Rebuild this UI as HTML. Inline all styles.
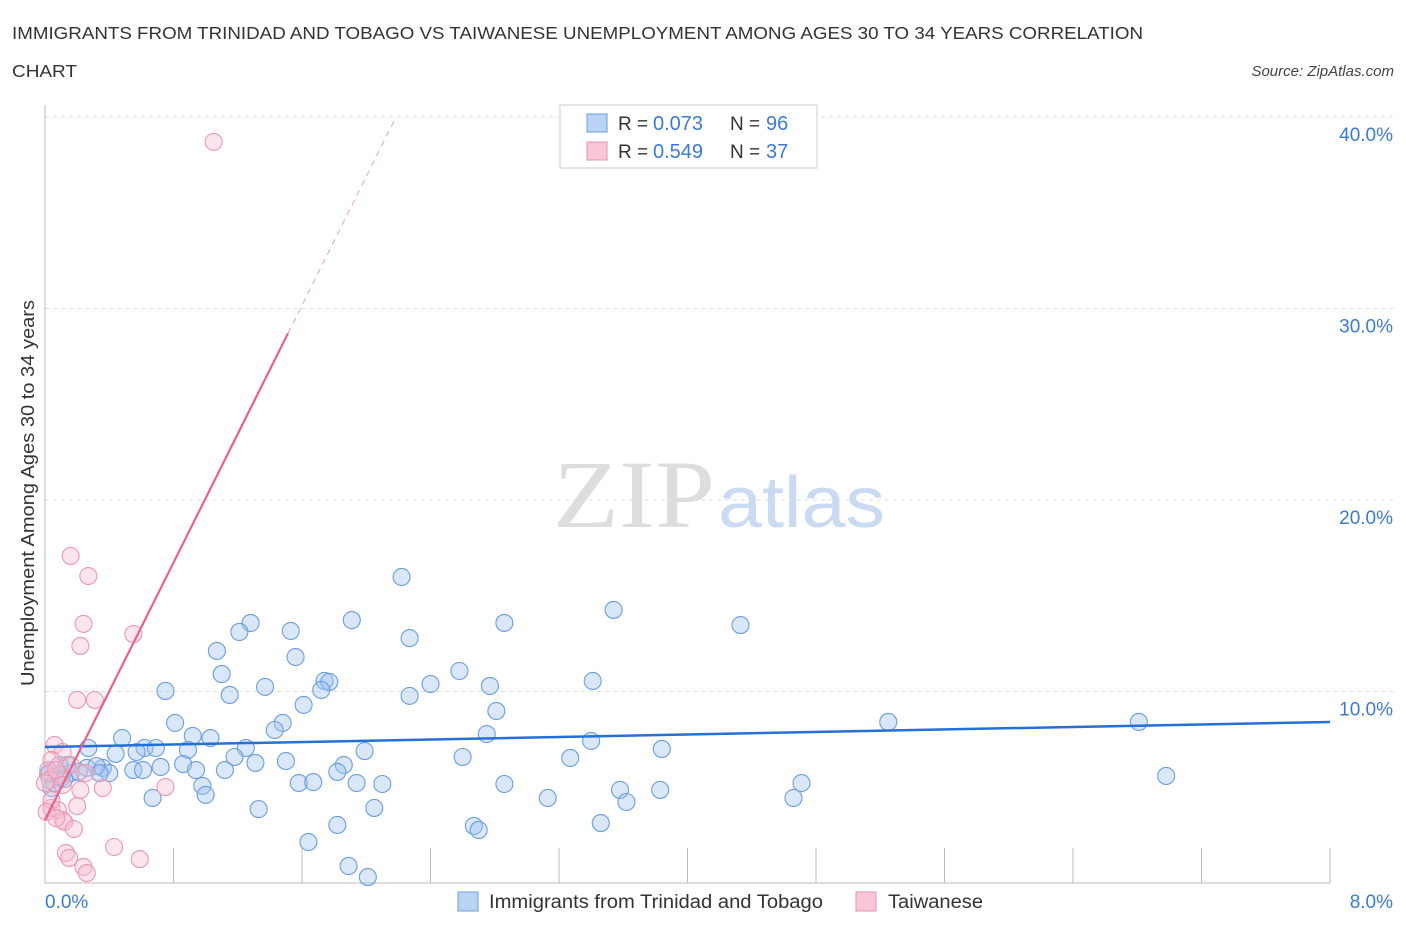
<!DOCTYPE html>
<html><head><meta charset="utf-8"><style>
body{margin:0;background:#fff;font-family:"Liberation Sans",sans-serif;}
</style></head><body>
<svg id="chart" width="1406" height="930" xmlns="http://www.w3.org/2000/svg" font-family="Liberation Sans, sans-serif">
<text x="12" y="39" font-size="17.5" fill="#333" textLength="1131" lengthAdjust="spacingAndGlyphs">IMMIGRANTS FROM TRINIDAD AND TOBAGO VS TAIWANESE UNEMPLOYMENT AMONG AGES 30 TO 34 YEARS CORRELATION</text>
<text x="12" y="77" font-size="17.5" fill="#333" textLength="65" lengthAdjust="spacingAndGlyphs">CHART</text>
<text x="1394" y="76" font-size="15" fill="#444" font-style="italic" text-anchor="end">Source: ZipAtlas.com</text>
<text x="553" y="527" font-size="96" fill="#ddd" font-family="Liberation Serif, serif" textLength="162" lengthAdjust="spacingAndGlyphs">ZIP</text>
<text x="718" y="527" font-size="72" fill="#c9daf2" textLength="167" lengthAdjust="spacingAndGlyphs">atlas</text>
<text transform="translate(34,493) rotate(-90)" font-size="18" fill="#333" text-anchor="middle" textLength="386" lengthAdjust="spacingAndGlyphs">Unemployment Among Ages 30 to 34 years</text>
<g id="grid"></g><g id="axes"></g><g id="pts"></g><g id="lines"></g>
<g>
<rect x="560" y="105" width="257" height="63" fill="#fff" stroke="#ccc"/>
<rect x="587" y="114" width="20" height="18" fill="#b9d3f5" stroke="#6a9de0"/>
<text x="618" y="130" font-size="19" fill="#333">R =</text>
<text x="653" y="130" font-size="20" fill="#3a7bd5">0.073</text>
<text x="730" y="130" font-size="19" fill="#333">N =</text>
<text x="766" y="130" font-size="20" fill="#3a7bd5">96</text>
<rect x="587" y="142" width="20" height="18" fill="#f8c6d4" stroke="#e890aa"/>
<text x="618" y="158" font-size="19" fill="#333">R =</text>
<text x="653" y="158" font-size="20" fill="#3a7bd5">0.549</text>
<text x="730" y="158" font-size="19" fill="#333">N =</text>
<text x="766" y="158" font-size="20" fill="#3a7bd5">37</text>
</g>
<g>
<rect x="458" y="892" width="20" height="19" fill="#b9d3f5" stroke="#6a9de0"/>
<text x="489" y="908" font-size="19" fill="#333" textLength="334" lengthAdjust="spacingAndGlyphs">Immigrants from Trinidad and Tobago</text>
<rect x="856" y="892" width="20" height="19" fill="#f8c6d4" stroke="#e890aa"/>
<text x="888" y="908" font-size="19" fill="#333" textLength="95" lengthAdjust="spacingAndGlyphs">Taiwanese</text>
</g>
</svg>
<script>
const blueX=[2.22,3.54,4.33,2.86,1.91,1.28,1.21,1.53,2.27,1.07,1.56,1.10,2.58,1.74,1.77,1.72,2.40,2.77,3.41,0.75,1.37,1.15,2.27,1.61,2.81,5.25,6.81,0.81,1.48,1.43,2.75,0.48,0.92,1.03,3.40,0.27,0.62,0.69,0.44,0.57,0.89,1.25,1.99,3.84,1.18,2.60,3.27,1.50,1.31,1.86,0.86,0.72,0.55,0.61,1.12,0.94,0.36,0.40,0.26,0.16,0.10,0.03,0.06,1.82,6.98,1.58,1.67,1.94,2.10,2.86,4.71,3.58,3.83,0.98,1.00,0.67,3.13,4.66,3.62,1.33,2.05,1.82,2.67,2.70,3.46,1.64,1.89,2.01,0.04,0.02,0.14,0.32,0.21,0.09,0.12,0.34];
const blueY=[15.98,14.26,13.47,13.58,13.73,13.58,13.11,13.16,12.79,12.12,11.80,10.91,11.07,10.55,10.50,10.08,10.39,10.29,10.55,10.03,10.24,9.82,9.77,9.30,8.98,8.41,8.41,8.36,8.36,7.99,7.78,7.57,7.68,7.57,7.42,7.05,7.05,7.05,6.74,6.84,6.95,7.05,6.89,7.00,6.58,6.58,6.53,6.37,6.27,6.16,6.21,6.06,5.90,5.90,5.90,5.90,6.01,5.74,6.01,5.74,5.48,5.80,5.22,5.80,5.59,5.22,5.27,5.22,5.17,5.17,5.22,4.86,4.86,5.07,4.60,4.44,4.44,4.44,4.23,3.86,3.92,3.03,2.98,2.77,3.13,2.14,0.89,0.31,4.96,5.69,6.16,6.11,5.80,6.16,5.43,5.74];
const pinkX=[1.05,0.16,0.27,0.24,0.55,0.22,0.20,0.31,0.06,0.11,0.04,0.02,0.16,0.25,0.09,0.03,0.04,0.08,0.11,0.12,0.18,0.20,0.22,0.36,0.75,0.13,0.15,0.24,0.26,0.43,0.59,0.07,0.00,0.11,0.04,0.01,0.07];
const pinkY=[38.7,17.08,16.03,13.53,13.00,12.38,9.56,9.56,7.21,6.84,6.42,5.90,6.16,5.74,5.64,5.38,3.92,3.81,3.29,3.19,2.82,4.02,4.86,4.96,5.01,1.57,1.31,0.84,0.52,1.88,1.25,5.90,5.22,5.12,4.33,3.71,3.39];
const yTicks=[10,20,30,40];
const yTickLabels=["10.0%","20.0%","30.0%","40.0%"];
const xTicks=[0.8,1.6,2.4,3.2,4.0,4.8,5.6,6.4,7.2,8.0];
const blueTrend=[7.10,8.41];
const pinkTrend=[3.29,16.8];
const NS="http://www.w3.org/2000/svg";
const sx=v=>45+v/8*1285, sy=v=>883-v/10*191.5;
function mk(tag,attrs,parent){const e=document.createElementNS(NS,tag);for(const k in attrs)e.setAttribute(k,attrs[k]);document.getElementById(parent).appendChild(e);return e;}
yTicks.forEach((t,i)=>{
 const g=mk('line',{x1:45,x2:1395,y1:sy(t),y2:sy(t),stroke:'#ddd','stroke-dasharray':'4,4'},'grid');
 
 
 const l=mk('text',{x:1393,y:sy(t)+24,'font-size':19,fill:'#3a7bd5','text-anchor':'end'},'grid');
 l.textContent=yTickLabels[i];
 
 
});
const ax=mk('line',{x1:45,x2:45,y1:105,y2:883,stroke:'#bbb'},'axes');


const bx=mk('line',{x1:45,x2:1330,y1:883,y2:883,stroke:'#bbb'},'axes');


xTicks.forEach(t=>{
 const k=mk('line',{x1:sx(t),x2:sx(t),y1:848,y2:883,stroke:'#bbb'},'axes');
 
 
});
const x0=mk('text',{x:45,y:908,'font-size':19,fill:'#3a7bd5'},'axes');x0.textContent='0.0%';


const x1=mk('text',{x:1393,y:908,'font-size':19,fill:'#3a7bd5','text-anchor':'end'},'axes');x1.textContent='8.0%';


blueX.forEach((x,i)=>{
 const c=mk('circle',{cx:sx(x),cy:sy(blueY[i]),r:8.5,fill:'rgba(160,196,240,0.4)',stroke:'#6a9de0','stroke-width':1.1},'pts');
 
 
});
pinkX.forEach((x,i)=>{
 const c=mk('circle',{cx:sx(x),cy:sy(pinkY[i]),r:8.5,fill:'rgba(248,190,208,0.4)',stroke:'#ec98b2','stroke-width':1.1},'pts');
 
 
});
const bl=mk('line',{x1:sx(0),y1:sy(blueTrend[0]),x2:sx(8),y2:sy(blueTrend[1]),stroke:'#2470d6','stroke-width':2.5},'lines');


const pe=1.513, pd=(40-pinkTrend[0])/pinkTrend[1];
const pl=mk('line',{x1:sx(0),y1:sy(pinkTrend[0]),x2:sx(pe),y2:sy(pinkTrend[0]+pinkTrend[1]*pe),stroke:'#e8628c','stroke-width':2.2},'lines');


const pd2=mk('line',{x1:sx(pe),y1:sy(pinkTrend[0]+pinkTrend[1]*pe),x2:sx(pd),y2:sy(40),stroke:'#eaa0b8','stroke-width':1,'stroke-dasharray':'6,5'},'lines');


</script>
</body></html>
